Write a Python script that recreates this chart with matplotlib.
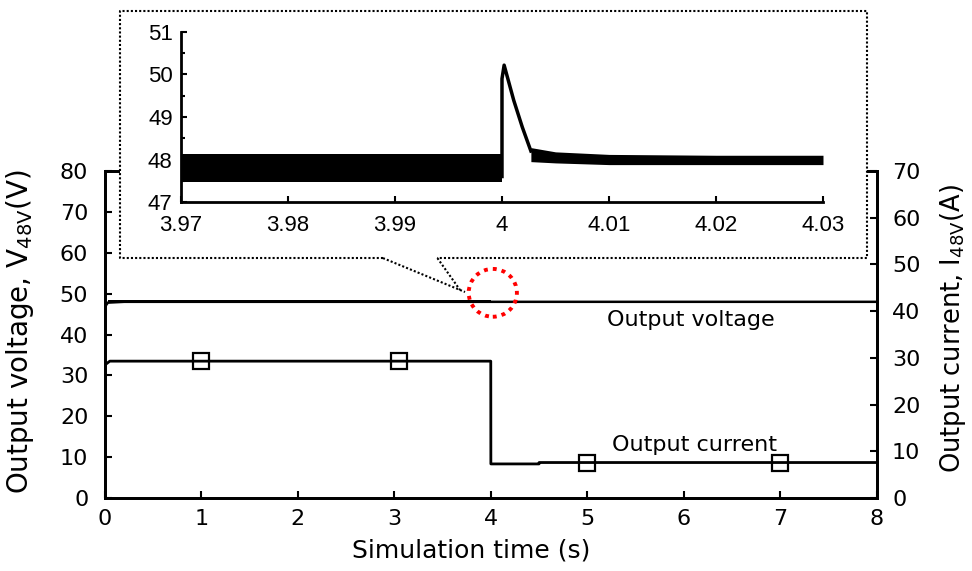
import matplotlib.pyplot as plt
import numpy as np
from matplotlib.lines import Line2D
from matplotlib.patches import Rectangle, Ellipse
from matplotlib.ticker import MultipleLocator, FuncFormatter

# whole run, 0..8 s
volt_t = [0.0, 0.03, 0.2, 4.0, 8.0]
volt_v = [46.8, 47.8, 48.0, 48.0, 48.0]
volt_band_t = [0.03, 4.0]
volt_band_lo = [47.6, 47.6]
volt_band_hi = [48.4, 48.4]

curr_t = [0.0, 0.05, 3.999, 4.0, 4.5, 4.5, 8.0]
curr_a = [28.5, 29.3, 29.3, 7.3, 7.3, 7.6, 7.6]
marker_t = [1.0, 3.05, 5.0, 7.0]

# zoom around the load step at t = 4 s
zoom_band_t = [3.97, 4.0]
zoom_band_lo = [47.47, 47.47]
zoom_band_hi = [48.12, 48.12]
zoom_t = [4.0, 4.0, 4.0002, 4.0011, 4.0019, 4.0027]
zoom_v = [47.6, 49.9, 50.22, 49.39, 48.76, 48.2]
tail_t = [4.0027, 4.005, 4.01, 4.02, 4.03]
tail_lo = [47.95, 47.92, 47.88, 47.88, 47.88]
tail_hi = [48.28, 48.18, 48.12, 48.1, 48.1]

plt.rcParams['font.family'] = 'DejaVu Sans'

fig = plt.figure(figsize=(9.72, 5.71), dpi=100)
ax = fig.add_axes([0.108, 0.1278, 0.794, 0.5727])
ax2 = ax.twinx()

ax.fill_between(volt_band_t, volt_band_lo, volt_band_hi, color='black', lw=0)
ax.plot(volt_t, volt_v, color='black', lw=1.8)
ax2.plot(curr_t, curr_a, color='black', lw=2.0)
ax2.plot(marker_t, np.interp(marker_t, curr_t, curr_a), ls='none', marker='s',
         ms=11, mfc='none', mec='black', mew=1.6)

ax.set_xlim(0, 8)
ax.set_ylim(0, 80)
ax2.set_ylim(0, 70)
ax.xaxis.set_major_locator(MultipleLocator(1))
ax.yaxis.set_major_locator(MultipleLocator(10))
ax2.yaxis.set_major_locator(MultipleLocator(10))
for a in (ax, ax2):
    a.tick_params(direction='in', length=5, width=1.5, labelsize=16)
    for s in a.spines.values():
        s.set_linewidth(2)
ax.tick_params(axis='y', pad=12)
ax.tick_params(axis='x', pad=8)
ax2.tick_params(axis='y', pad=11)

ax.set_xlabel('Simulation time (s)', fontsize=18)
ax.xaxis.set_label_coords(0.474, -0.125)
ax.set_ylabel(r'Output voltage, V$_{\mathregular{48V}}$(V)', fontsize=20)
ax.yaxis.set_label_coords(-0.089, 0.51)
ax2.set_ylabel(r'Output current, I$_{\mathregular{48V}}$(A)', fontsize=18.5)
ax2.yaxis.set_label_coords(1.08, 0.52)

ax.text(5.2, 43.5, 'Output voltage', fontsize=16, va='center')
ax.text(5.26, 13.0, 'Output current', fontsize=16, va='center')

# red marker round the step on the voltage trace
ax.add_patch(Ellipse((4.02, 50.2), 0.5, 11.7, fill=False, ec='red', lw=2.8,
                     ls=(0, (1, 1.3)), clip_on=False, zorder=5))

# dotted frame holding the zoomed view
bx0, bx1, by0, by1 = 0.1235, 0.892, 0.548, 0.9807
gap0, gap1 = 0.394, 0.45
fig.add_artist(Rectangle((bx0, by0), bx1 - bx0, by1 - by0, transform=fig.transFigure,
                         fc='white', ec='none', zorder=1))
dot = dict(color='black', lw=1.5, ls=(0, (1, 1)), transform=fig.transFigure, zorder=1.5)
for xs, ys in [([gap0, bx0, bx0, bx1, bx1, gap1], [by0, by0, by1, by1, by0, by0]),
               ([gap0, 0.4784], [by0, 0.4886]),
               ([gap1, 0.4733], [by0, 0.4921])]:
    fig.add_artist(Line2D(xs, ys, **dot))

ins = fig.add_axes([0.1862, 0.6462, 0.6605, 0.2978], zorder=2)
ins.patch.set_alpha(0)
ins.fill_between(zoom_band_t, zoom_band_lo, zoom_band_hi, color='black', lw=0)
ins.plot(zoom_t, zoom_v, color='black', lw=2.5)
ins.fill_between(tail_t, tail_lo, tail_hi, color='black', lw=0)
ins.set_xlim(3.97, 4.03)
ins.set_ylim(47, 51)
ins.xaxis.set_major_locator(MultipleLocator(0.01))
ins.yaxis.set_major_locator(MultipleLocator(1))
ins.yaxis.set_minor_locator(MultipleLocator(0.5))
ins.xaxis.set_major_formatter(FuncFormatter(lambda v, p: '%g' % round(v, 2)))
ins.spines['top'].set_visible(False)
ins.spines['right'].set_visible(False)
for s in ins.spines.values():
    s.set_linewidth(2)
ins.tick_params(which='both', direction='in', width=1.5)
ins.tick_params(which='major', length=4)
ins.tick_params(which='minor', length=3)
ins.tick_params(axis='x', pad=9)
ins.tick_params(axis='y', pad=6)
for lab in ins.get_xticklabels() + ins.get_yticklabels():
    lab.set_fontfamily('Liberation Sans')
    lab.set_fontsize(16)

fig.savefig('out.png', dpi=100)
